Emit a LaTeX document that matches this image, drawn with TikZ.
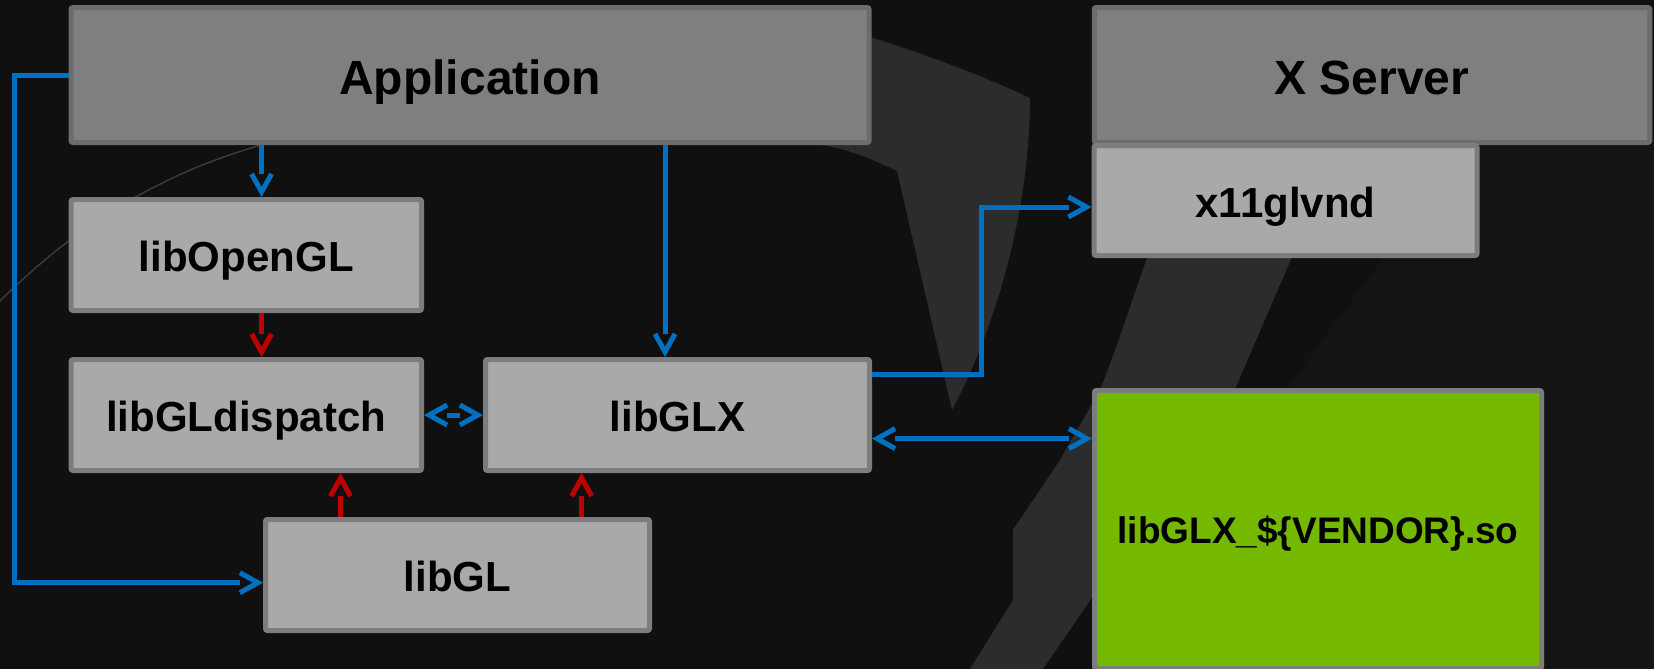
\documentclass[tikz,border=0pt]{standalone}
\usepackage{fontspec}
\setmainfont{Liberation Sans}
\usetikzlibrary{arrows.meta}

% Open "V" arrow head whose shaft stops at the back of the barbs
\pgfdeclarearrow{
  name = OpenV,
  setup code = {
    \pgfarrowssettipend{0pt}
    \pgfarrowssetlineend{-11.3pt}
    \pgfarrowssetbackend{-11.8pt}
    \pgfarrowshullpoint{0pt}{0pt}
    \pgfarrowsupperhullpoint{-11.8pt}{6pt}
  },
  drawing code = {
    \pgfsetdash{}{0pt}
    \pgfsetmiterjoin
    \pgfsetbuttcap
    \pgfpathmoveto{\pgfqpoint{-11.55pt}{5pt}}
    \pgfpathlineto{\pgfqpoint{-2.55pt}{0pt}}
    \pgfpathlineto{\pgfqpoint{-11.55pt}{-5pt}}
    \pgfusepathqstroke
  }
}

\definecolor{bgbase}{HTML}{101010}
\definecolor{bgshade}{HTML}{2C2C2C}
\definecolor{bgfaint}{HTML}{141414}
\definecolor{bgline}{HTML}{3A3A3A}
\definecolor{boxdark}{HTML}{7F7F7F}
\definecolor{boxdarkedge}{HTML}{6C6C6C}
\definecolor{boxlight}{HTML}{A9A9A9}
\definecolor{boxedge}{HTML}{7D7D7D}
\definecolor{vendorgreen}{HTML}{74B800}
\definecolor{linkblue}{HTML}{0070C0}
\definecolor{linkred}{HTML}{C00000}

\begin{document}
\begin{tikzpicture}[x=0.5pt,y=-0.5pt,
  box/.style={draw=boxedge, line width=2.5pt, fill=boxlight, rounded corners=1pt,
    inner sep=0pt, text=black, anchor=center,
    font=\fontsize{21pt}{25pt}\selectfont\bfseries, text height=16.7pt, text depth=0pt},
  topbox/.style={box, fill=boxdark, draw=boxdarkedge,
    font=\fontsize{24pt}{28pt}\selectfont\bfseries, text height=19.5pt},
  vendorbox/.style={box, fill=vendorgreen,
    font=\fontsize{18.5pt}{22pt}\selectfont\bfseries, text height=13.8pt},
  link/.style={line width=2.5pt, line cap=butt},
  bluelink/.style={link, draw=linkblue, -OpenV},
  bluedash/.style={link, draw=linkblue, OpenV-OpenV, dash pattern=on 10pt off 3pt},
  redlink/.style={link, draw=linkred, -OpenV, dash pattern=on 12pt off 4pt}
]
\useasboundingbox (0,0) rectangle (1654,669);

% backdrop
\fill[bgbase] (0,0) rectangle (1654,669);
\fill[bgfaint] (1287,389) -- (1470,140) -- (1654,140) -- (1654,669) -- (1544,669) -- (1544,389) -- cycle;
\fill[bgshade] (830,25) .. controls (900,45) and (970,70) .. (1030,98)
  .. controls (1030,200) and (1000,320) .. (952,410) -- (897,171)
  .. controls (870,158) and (845,148) .. (820,145) -- cycle;
\fill[bgshade] (970,669) -- (1013,600) -- (1013,530) -- (1060,460) -- (1100,390)
  .. controls (1120,340) and (1135,290) .. (1150,250) -- (1295,250)
  -- (1235,389) -- (1043,669) -- cycle;
\draw[bgline, line width=0.75pt] (-5,306) .. controls (70,230) and (160,170) .. (280,140);

% blocks
\node[topbox, minimum width=399pt, minimum height=67.5pt] (app) at (470,75) {Application};
\node[topbox, minimum width=277.75pt, minimum height=67.5pt] (xserver) at (1372,75) {X Server};
\node[box, minimum width=191.5pt, minimum height=55pt, text height=17pt] (x11) at (1285.5,200.5) {x11glvnd};
\node[box, minimum width=175.2pt, minimum height=55.5pt] (opengl) at (246.3,255) {libOpenGL};
\node[box, minimum width=175.2pt, minimum height=55.5pt] (dispatch) at (246.3,415) {libGLdispatch};
\node[box, minimum width=192pt, minimum height=55.5pt] (glx) at (677.5,415) {libGLX};
\node[box, minimum width=192pt, minimum height=55.5pt] (libgl) at (457.5,575) {libGL};
\node[vendorbox, minimum width=223.5pt, minimum height=139pt] (vendor) at (1318,529.5) {libGLX\_\$\{VENDOR\}.so};

% guide positions for the connectors
\coordinate (xa) at (261.6,0);
\coordinate (xb) at (665,0);
\coordinate (xc) at (340.5,0);
\coordinate (xd) at (581.7,0);
\coordinate (lx) at (14,0);
\coordinate (rx) at (981.7,0);
\coordinate (ya) at (0,582.7);
\coordinate (yb) at (0,374.6);
\coordinate (yc) at (0,438.6);
\coordinate (yd) at (0,207);

% connectors
\draw[bluelink] (app.south -| xa) -- (opengl.north -| xa);
\draw[bluelink] (app.south -| xb) -- (glx.north -| xb);
\draw[redlink] (opengl.south -| xa) -- (dispatch.north -| xa);
\draw[bluedash] (dispatch.east) -- (glx.west);
\draw[redlink] (libgl.north -| xc) -- (dispatch.south -| xc);
\draw[redlink] (libgl.north -| xd) -- (glx.south -| xd);
\draw[bluelink] (app.west) -| (lx |- ya) -- (libgl.west |- ya);
\draw[bluelink] (glx.east |- yb) -| (rx |- yd) -- (x11.west |- yd);
\draw[bluelink, OpenV-OpenV] (glx.east |- yc) -- (vendor.west |- yc);
\end{tikzpicture}
\end{document}
